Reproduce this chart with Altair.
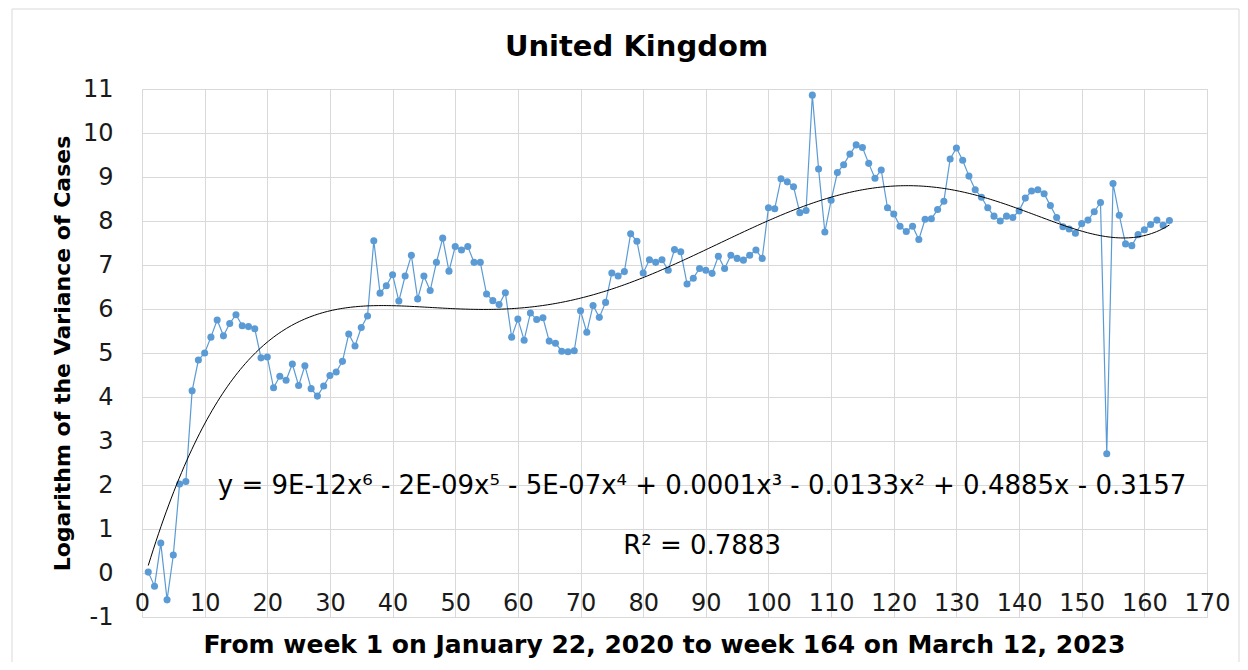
import altair as alt
import numpy as np
import pandas as pd

weeks = list(range(1, 165))
log_variance = [
    0.02, -0.30, 0.68, -0.61, 0.41, 2.02, 2.08, 4.14, 4.84, 5.00,
    5.36, 5.75, 5.39, 5.67, 5.87, 5.62, 5.60, 5.55, 4.89, 4.91,
    4.21, 4.47, 4.38, 4.75, 4.26, 4.71, 4.19, 4.02, 4.25, 4.49,
    4.57, 4.81, 5.43, 5.16, 5.58, 5.84, 7.55, 6.36, 6.53, 6.78,
    6.18, 6.75, 7.22, 6.23, 6.75, 6.42, 7.06, 7.61, 6.86, 7.42,
    7.34, 7.42, 7.06, 7.06, 6.34, 6.19, 6.10, 6.37, 5.36, 5.77,
    5.29, 5.91, 5.76, 5.80, 5.27, 5.22, 5.04, 5.03, 5.05, 5.96,
    5.47, 6.08, 5.81, 6.15, 6.82, 6.75, 6.85, 7.71, 7.54, 6.82,
    7.12, 7.06, 7.12, 6.88, 7.35, 7.30, 6.57, 6.70, 6.92, 6.88,
    6.81, 7.20, 6.92, 7.22, 7.15, 7.11, 7.22, 7.34, 7.15, 8.30,
    8.28, 8.96, 8.89, 8.78, 8.19, 8.24, 10.86, 9.18, 7.75, 8.47,
    9.10, 9.28, 9.52, 9.73, 9.67, 9.31, 8.97, 9.16, 8.30, 8.16,
    7.88, 7.76, 7.88, 7.58, 8.04, 8.05, 8.26, 8.45, 9.41, 9.66,
    9.38, 9.02, 8.71, 8.54, 8.30, 8.11, 8.00, 8.11, 8.08, 8.23,
    8.52, 8.68, 8.71, 8.62, 8.35, 8.08, 7.87, 7.82, 7.72, 7.94,
    8.02, 8.21, 8.42, 2.71, 8.85, 8.13, 7.48, 7.44, 7.69, 7.80,
    7.92, 8.02, 7.90, 8.01,
]
x_ticks = list(range(0, 171, 10))
y_ticks = list(range(-1, 12))
equation_text = ["y = 9E-12x\u2076 - 2E-09x\u2075 - 5E-07x\u2074 + 0.0001x\u00b3 - 0.0133x\u00b2 + 0.4885x - 0.3157",
                 "R\u00b2 = 0.7883"]
equation_x = [89.4, 89.4]
equation_y = [1.98, 0.61]

df = pd.DataFrame({"week": weeks, "value": log_variance})

# 6th-order polynomial trendline fitted to the data (like the Excel trendline)
poly = np.polynomial.Polynomial.fit(np.array(weeks, float), np.array(log_variance, float), 6)
xs = np.linspace(1, 164, 400)
trend = pd.DataFrame({"week": xs, "value": poly(xs)})
ann = pd.DataFrame({"x": equation_x, "y": equation_y, "label": equation_text})

W, H = 1065, 528
FONT = "DejaVu Sans"
BLUE = "#5B9BD5"

xscale = alt.Scale(domain=[0, 170], nice=False, zero=False)
yscale = alt.Scale(domain=[-1, 11], nice=False, zero=False)

x_axis = alt.Axis(values=x_ticks, grid=True, gridColor="#d9d9d9", ticks=False, domain=False,
                  labelFont=FONT, labelFontSize=24, labelColor="#1a1a1a", labelPadding=0,
                  labelBaseline="middle", offset=-14, labelFlush=False,
                  labelExpr="'' + datum.value",
                  title="From week 1 on January  22, 2020 to week 164 on March 12, 2023",
                  titleFont=FONT, titleFontSize=25, titleFontWeight="bold", titleColor="#000000",
                  titleX=522, titleY=41, titleBaseline="middle", titleAnchor="middle")
y_axis = alt.Axis(values=y_ticks, grid=True, gridColor="#d9d9d9", ticks=False, domain=False,
                  labelFont=FONT, labelFontSize=24, labelColor="#1a1a1a", labelPadding=29,
                  labelFlush=False, labelExpr="'' + datum.value",
                  title="Logarithm of the Variance of Cases",
                  titleFont=FONT, titleFontSize=22, titleFontWeight="bold", titleColor="#000000",
                  titleX=-80, titleY=H / 2, titleAngle=-90, titleBaseline="middle",
                  titleAlign="center")

# light outer border of the whole chart (decorative)
frame = alt.Chart(pd.DataFrame({"k": [0]})).mark_rect(
    fill=None, stroke="#d9d9d9", strokeWidth=1, clip=False
).encode(x=alt.value(-130), x2=alt.value(1097), y=alt.value(-80), y2=alt.value(700))

line = alt.Chart(df).mark_line(color=BLUE, strokeWidth=1.2).encode(
    x=alt.X("week:Q", scale=xscale, axis=x_axis),
    y=alt.Y("value:Q", scale=yscale, axis=y_axis),
)
points = alt.Chart(df).mark_circle(color=BLUE, size=50, opacity=1).encode(
    x=alt.X("week:Q", scale=xscale),
    y=alt.Y("value:Q", scale=yscale),
)
trendline = alt.Chart(trend).mark_line(color="#000000", strokeWidth=1).encode(
    x=alt.X("week:Q", scale=xscale),
    y=alt.Y("value:Q", scale=yscale),
)
text = alt.Chart(ann).mark_text(font=FONT, fontSize=26, color="#000000", align="center",
                                baseline="middle").encode(
    x=alt.X("x:Q", scale=xscale),
    y=alt.Y("y:Q", scale=yscale),
    text="label:N",
)

chart = alt.layer(frame, line, points, trendline, text).properties(
    width=W, height=H,
    title=alt.TitleParams("United Kingdom", font=FONT, fontSize=29, fontWeight="bold",
                          color="#000000", anchor="middle", dx=-38, offset=-76,
                          baseline="alphabetic"),
    autosize=alt.AutoSizeParams(type="none"),
    padding={"left": 134, "top": 81, "right": 33, "bottom": 45},
).configure_view(stroke="#d9d9d9", strokeWidth=1).configure(background="white")

chart.save("out.html", embed_options={"renderer": "svg", "actions": False})
